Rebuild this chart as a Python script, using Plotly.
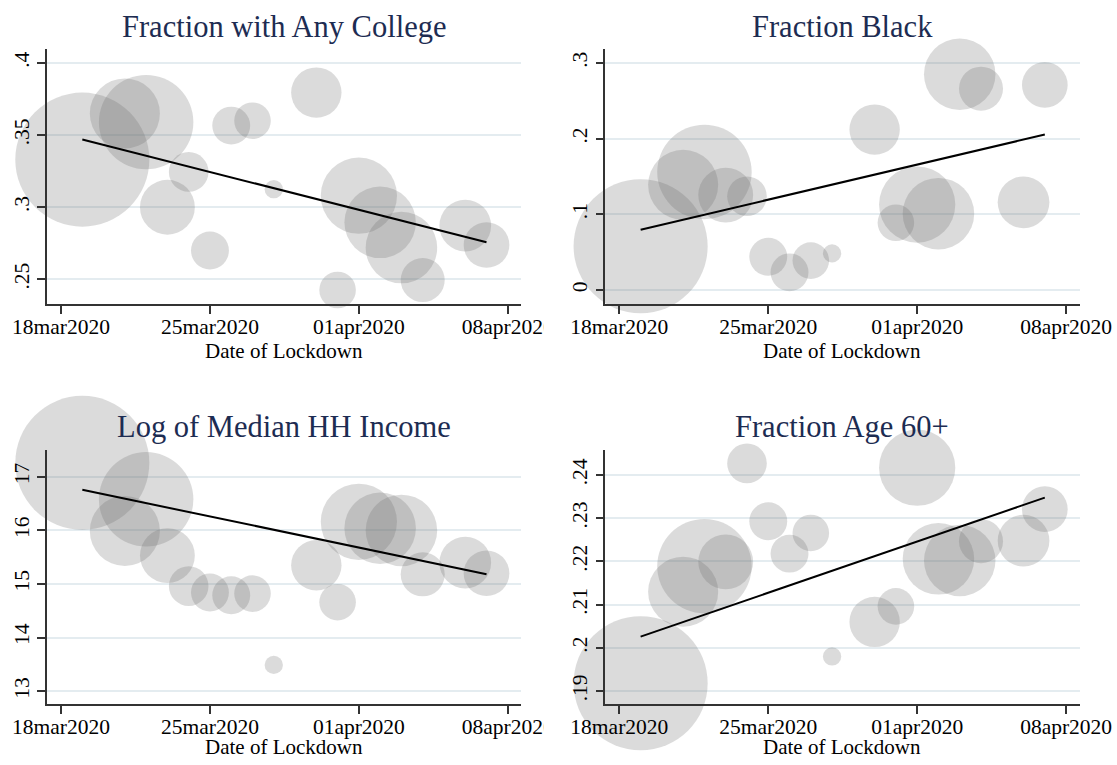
import numpy as np
import pandas as pd
import plotly.graph_objects as go

# Lockdown dates (one bubble per date) and relative population weights
lockdown_dates = [
    "2020-03-19", "2020-03-21", "2020-03-22", "2020-03-23", "2020-03-24",
    "2020-03-25", "2020-03-26", "2020-03-27", "2020-03-28", "2020-03-30",
    "2020-03-31", "2020-04-01", "2020-04-02", "2020-04-03", "2020-04-04",
    "2020-04-06", "2020-04-07",
]
pop_weight = [53.8, 14.7, 26.7, 9.0, 4.7, 4.3, 4.3, 4.0, 1.0, 7.6,
              4.0, 17.4, 15.3, 15.3, 5.8, 8.0, 6.25]

frac_college = [0.333, 0.365, 0.359, 0.300, 0.3245, 0.270, 0.3566, 0.360, 0.3125,
                0.3795, 0.2426, 0.308, 0.2895, 0.272, 0.2495, 0.2873, 0.2738]
frac_black = [0.058, 0.139, 0.156, 0.1255, 0.124, 0.044, 0.0235, 0.039, 0.0485,
              0.212, 0.089, 0.113, 0.101, 0.285, 0.266, 0.116, 0.271]
log_income = [17.26, 15.99, 16.58, 15.53, 14.96, 14.84, 14.79, 14.82, 13.49,
              15.35, 14.66, 16.16, 16.04, 16.00, 15.18, 15.40, 15.20]
frac_age60 = [0.1918, 0.2130, 0.2189, 0.2199, 0.2427, 0.2293, 0.2218, 0.2266, 0.1980,
              0.2060, 0.2096, 0.2417, 0.2206, 0.2202, 0.2247, 0.2248, 0.2321]

panel_titles = ["Fraction with Any College", "Fraction Black",
                "Log of Median HH Income", "Fraction Age 60+"]
x_title = "Date of Lockdown"

x_tick_dates = ["2020-03-18", "2020-03-25", "2020-04-01", "2020-04-08"]
x_tick_text = ["18mar2020", "25mar2020", "01apr2020", "08apr2020"]

y_ticks = [
    [0.25, 0.30, 0.35, 0.40],
    [0.0, 0.1, 0.2, 0.3],
    [13, 14, 15, 16, 17],
    [0.19, 0.20, 0.21, 0.22, 0.23, 0.24],
]
y_tick_text = [
    [".25", ".3", ".35", ".4"],
    ["0", ".1", ".2", ".3"],
    ["13", "14", "15", "16", "17"],
    [".19", ".2", ".21", ".22", ".23", ".24"],
]
y_ranges = [
    [0.2329, 0.4095],
    [-0.0183, 0.318],
    [12.76, 17.50],
    [0.1870, 0.2458],
]

series = [frac_college, frac_black, log_income, frac_age60]

# ---- page geometry (pixels) ----
W, H = 1117, 765
col_x = [(47.0, 521.2), (605.3, 1079.5)]
row_y = [(49.3, 304.0), (450.0, 704.0)]
title_y = [27, 427]
xtitle_y = [351, 747]

base = pd.Timestamp("2020-03-18")
x_range = [str(base + pd.Timedelta(days=-0.66)), str(base + pd.Timedelta(days=21.63))]

dates = pd.to_datetime(lockdown_dates)
days = np.array([(d - base).days for d in dates], dtype=float)
w = np.array(pop_weight)

serif = "Liberation Serif, Times New Roman, serif"
title_color = "#1d2c52"
axis_color = "#333333"
grid_color = "#e4ecf0"
bubble_color = "rgba(105,105,105,0.34)"
max_diam = 94.8
sizeref = w.max() / max_diam ** 2

fig = go.Figure()
layout = dict(
    width=W, height=H,
    margin=dict(l=0, r=0, t=0, b=0),
    paper_bgcolor="white", plot_bgcolor="white",
    showlegend=False,
    annotations=[], shapes=[],
)

for i, (title, yvals) in enumerate(zip(panel_titles, series)):
    r, c = divmod(i, 2)
    n = "" if i == 0 else str(i + 1)
    xa, ya = "x" + n, "y" + n
    x0, x1 = col_x[c]
    yt, yb = row_y[r]

    fig.add_trace(go.Scatter(
        x=dates, y=yvals, mode="markers", xaxis=xa, yaxis=ya,
        cliponaxis=False, hoverinfo="skip",
        marker=dict(size=w, sizemode="area", sizeref=sizeref,
                    color=bubble_color, line=dict(width=0)),
    ))

    # weighted linear fit over the observed date span
    slope, intercept = np.polyfit(days, np.array(yvals), 1, w=np.sqrt(w))
    fx = np.array([days.min(), days.max()])
    fig.add_trace(go.Scatter(
        x=[base + pd.Timedelta(days=d) for d in fx], y=intercept + slope * fx,
        mode="lines", xaxis=xa, yaxis=ya, cliponaxis=False, hoverinfo="skip",
        line=dict(color="black", width=2),
    ))

    layout["xaxis" + n] = dict(
        domain=[x0 / W, x1 / W], anchor=ya, type="date", range=x_range,
        automargin=False,
        tickvals=x_tick_dates, ticktext=x_tick_text, ticklabelstandoff=-6,
        ticks="outside", ticklen=8, tickwidth=1.5, tickcolor=axis_color,
        showline=True, linecolor=axis_color, linewidth=1.6,
        showgrid=False, zeroline=False,
        tickfont=dict(family=serif, size=21.5, color="black"),
        fixedrange=True,
    )
    layout["yaxis" + n] = dict(
        domain=[1 - yb / H, 1 - yt / H], anchor=xa, range=y_ranges[i],
        automargin=False,
        tickvals=y_ticks[i], ticktext=y_tick_text[i], tickangle=-90,
        ticks="outside", ticklen=8, tickwidth=1.5, tickcolor=axis_color,
        showline=True, linecolor=axis_color, linewidth=1.6,
        showgrid=True, gridcolor=grid_color, gridwidth=1.5, zeroline=False,
        tickfont=dict(family=serif, size=21.5, color="black"),
        fixedrange=True,
    )
    layout["annotations"].append(dict(
        text=title, xref="paper", yref="paper",
        x=(x0 + x1) / 2 / W, y=1 - title_y[r] / H,
        xanchor="center", yanchor="middle", showarrow=False,
        font=dict(family=serif, size=30.5, color=title_color),
    ))
    layout["annotations"].append(dict(
        text=x_title, xref="paper", yref="paper",
        x=(x0 + x1) / 2 / W, y=1 - xtitle_y[r] / H,
        xanchor="center", yanchor="middle", showarrow=False,
        font=dict(family=serif, size=21, color="black"),
    ))

# left-column graphs are clipped at their own region edge
for ytop, ybot in [(308, 342), (708, 735)]:
    layout["shapes"].append(dict(
        type="rect", xref="paper", yref="paper", layer="above",
        x0=543.5 / W, x1=569 / W, y0=1 - ybot / H, y1=1 - ytop / H,
        fillcolor="white", line=dict(width=0),
    ))

fig.update_layout(**layout)
fig.write_html("out.html")
